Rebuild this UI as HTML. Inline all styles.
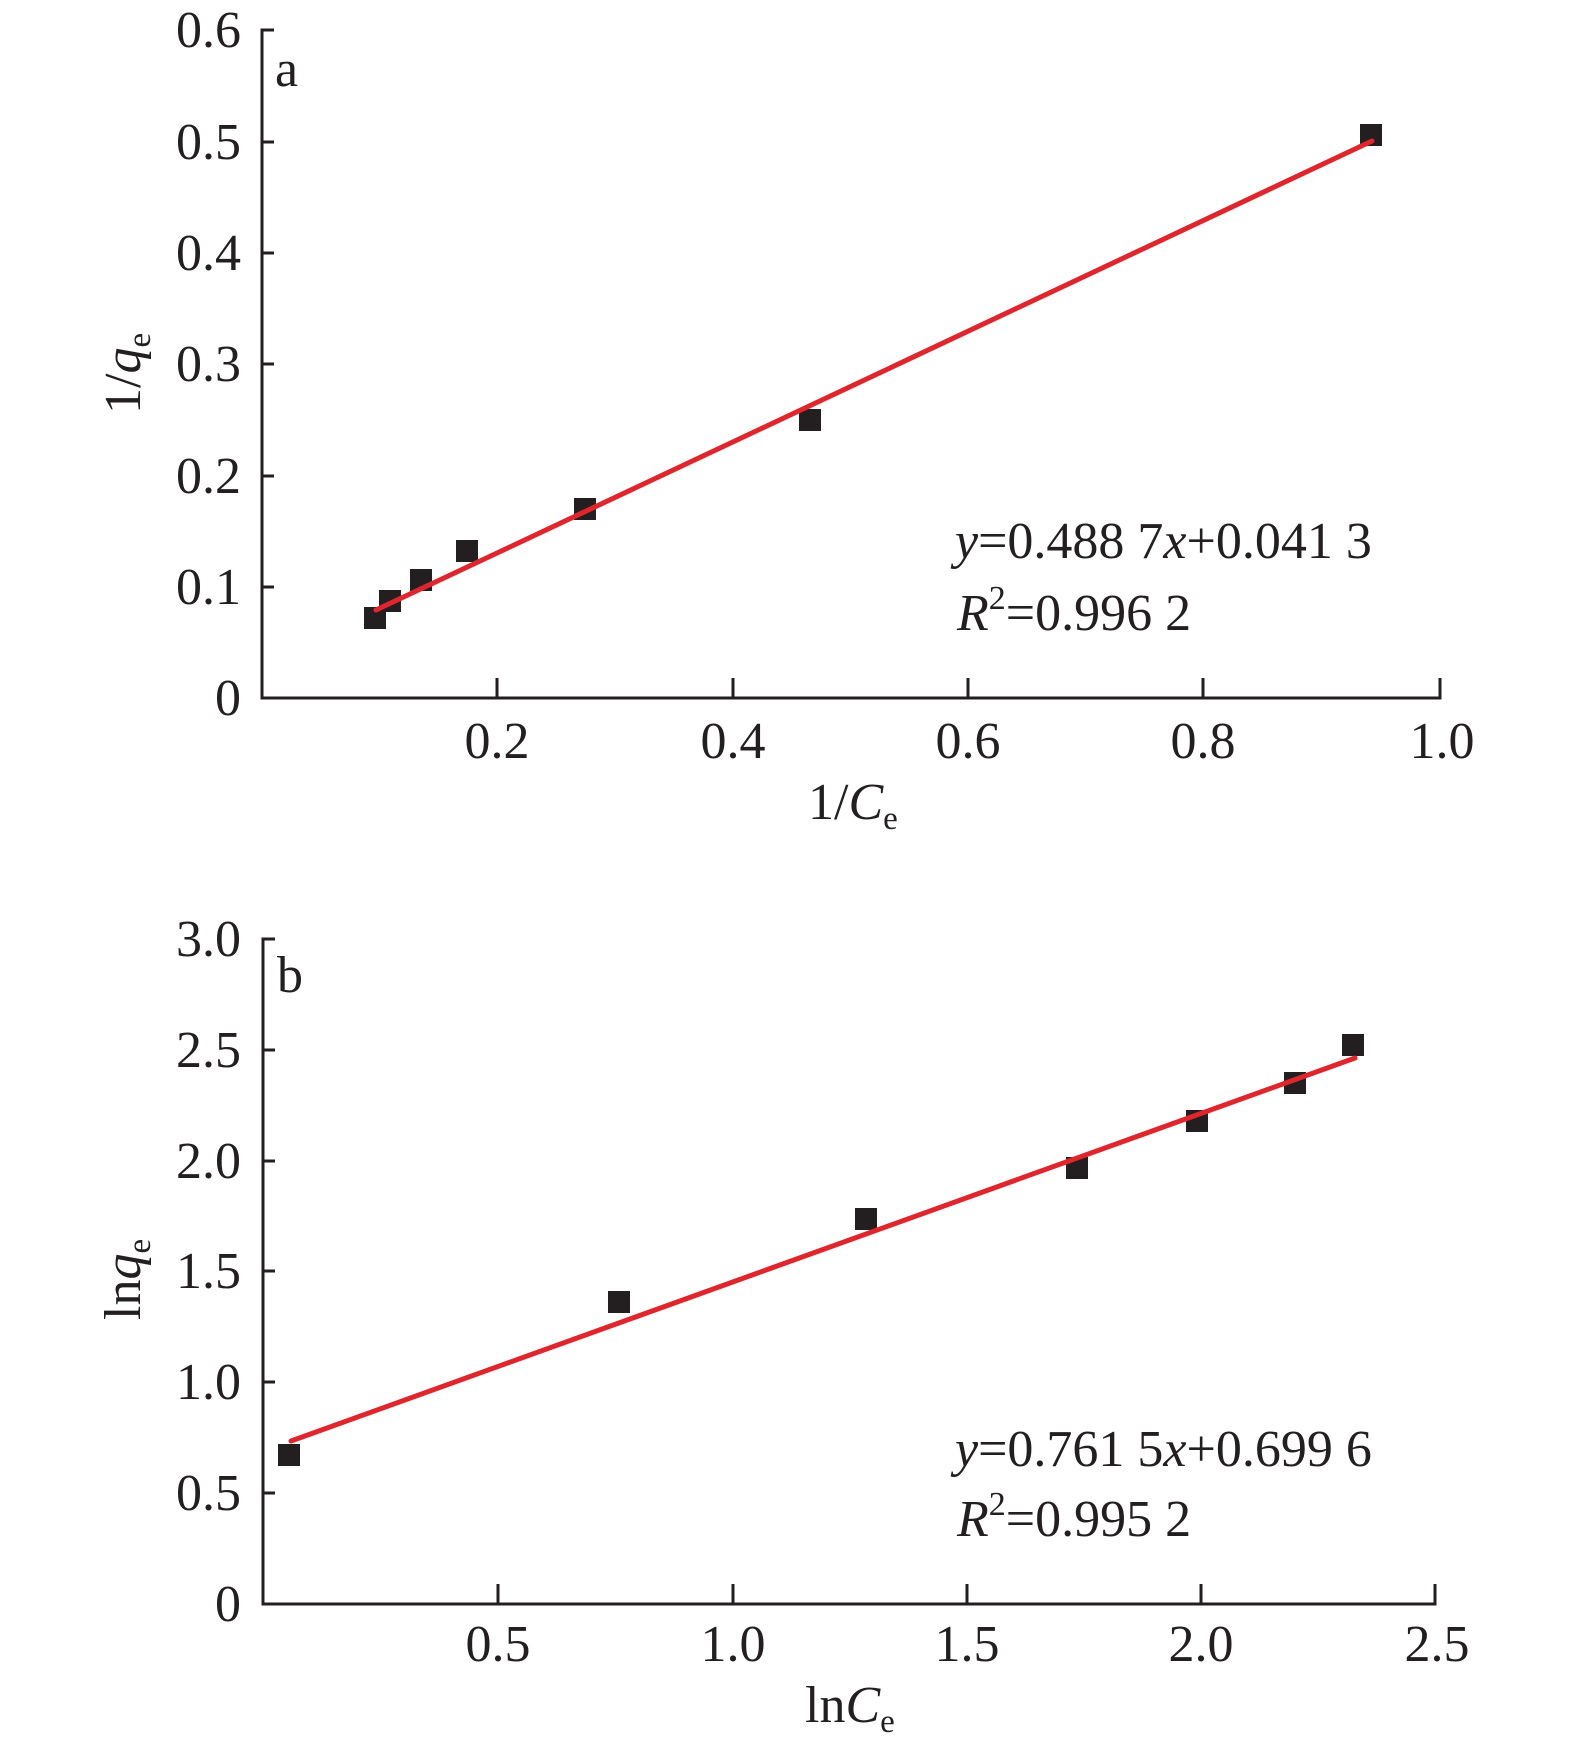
<!DOCTYPE html>
<html><head><meta charset="utf-8"><style>
html,body{margin:0;padding:0;background:#fff;}
svg{display:block;}
text{font-family:"Liberation Serif",serif;fill:#231f20;font-size:52px;}
</style></head><body>
<svg width="1575" height="1757" viewBox="0 0 1575 1757" xmlns="http://www.w3.org/2000/svg">
<g stroke="#231f20" stroke-width="3" fill="none">
<path d="M274,30 H262 V698 H1440 V684"/>
<path d="M262,142 H274 M262,253 H274 M262,364 H274 M262,476 H274 M262,587 H274"/>
<path d="M497,698 V678 M733,698 V678 M968,698 V678 M1203,698 V678 M1440,698 V678"/>
<path d="M275,939 H263 V1604 H1435 V1584"/>
<path d="M263,1050 H275 M263,1161 H275 M263,1271 H275 M263,1382 H275 M263,1493 H275"/>
<path d="M498,1604 V1584 M733,1604 V1584 M967,1604 V1584 M1201,1604 V1584"/>
</g>
<g fill="#231f20" text-anchor="end">
<text x="241" y="47">0.6</text><text x="241" y="159">0.5</text><text x="241" y="270">0.4</text>
<text x="241" y="381">0.3</text><text x="241" y="493">0.2</text><text x="241" y="604">0.1</text>
<text x="241" y="715">0</text>
<text x="241" y="956">3.0</text><text x="241" y="1067">2.5</text><text x="241" y="1178">2.0</text>
<text x="241" y="1288">1.5</text><text x="241" y="1399">1.0</text><text x="241" y="1510">0.5</text>
<text x="241" y="1621">0</text>
</g>
<g text-anchor="middle">
<text x="497" y="758">0.2</text><text x="733" y="758">0.4</text><text x="968" y="758">0.6</text>
<text x="1203" y="758">0.8</text><text x="1442" y="758">1.0</text>
<text x="498" y="1661">0.5</text><text x="733" y="1661">1.0</text><text x="967" y="1661">1.5</text>
<text x="1201" y="1661">2.0</text><text x="1437" y="1661">2.5</text>
</g>
<text x="808" y="819">1/<tspan font-style="italic">C</tspan><tspan font-size="33" dy="10">e</tspan></text>
<text x="805" y="1722">ln<tspan font-style="italic">C</tspan><tspan font-size="33" dy="10">e</tspan></text>
<text transform="translate(140,414) rotate(-90)">1/<tspan font-style="italic">q</tspan><tspan font-size="33" dy="10">e</tspan></text>
<text transform="translate(140,1320) rotate(-90)">ln<tspan font-style="italic">q</tspan><tspan font-size="33" dy="10">e</tspan></text>
<text x="275" y="86">a</text>
<text x="277" y="992">b</text>
<text x="955" y="558" font-size="58"><tspan font-style="italic">y</tspan>=0.488 7<tspan font-style="italic">x</tspan>+0.041 3</text>
<text x="957" y="630" font-size="58"><tspan font-style="italic">R</tspan><tspan font-size="34" dy="-21">2</tspan><tspan dy="21">=0.996 2</tspan></text>
<text x="955" y="1466" font-size="58"><tspan font-style="italic">y</tspan>=0.761 5<tspan font-style="italic">x</tspan>+0.699 6</text>
<text x="957" y="1536" font-size="58"><tspan font-style="italic">R</tspan><tspan font-size="34" dy="-21">2</tspan><tspan dy="21">=0.995 2</tspan></text>
<g fill="#231f20">
<rect x="364" y="607" width="22" height="22"/><rect x="379" y="590" width="22" height="22"/>
<rect x="410" y="569" width="22" height="22"/><rect x="456" y="540" width="22" height="22"/>
<rect x="574" y="498" width="22" height="22"/><rect x="799" y="409" width="22" height="22"/>
<rect x="1360" y="124" width="22" height="22"/>
<rect x="278" y="1444" width="22" height="22"/><rect x="608" y="1291" width="22" height="22"/>
<rect x="855" y="1208" width="22" height="22"/><rect x="1066" y="1157" width="22" height="22"/>
<rect x="1186" y="1110" width="22" height="22"/><rect x="1284" y="1072" width="22" height="22"/>
<rect x="1342" y="1034" width="22" height="22"/>
</g>
<g stroke="#e0262c" stroke-width="5" stroke-linecap="round">
<line x1="376" y1="610" x2="1372" y2="141"/>
<line x1="291" y1="1441" x2="1355" y2="1058"/>
</g>
</svg>
</body></html>
